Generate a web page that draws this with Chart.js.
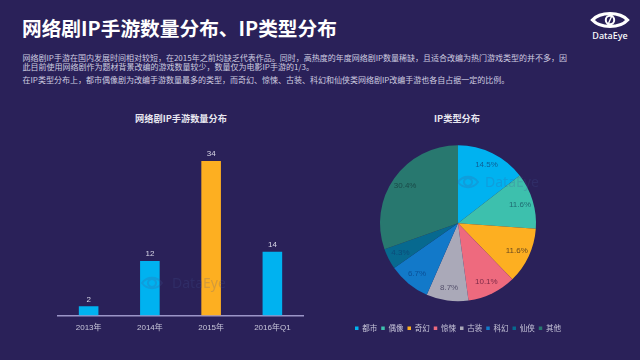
<!DOCTYPE html>
<html lang="zh"><head><meta charset="utf-8">
<script src="https://cdn.jsdelivr.net/npm/chart.js@4"></script>
<style>
html,body{margin:0;padding:0;background:#2a2159;width:640px;height:360px;overflow:hidden}
body{position:relative;font-family:"Noto Sans CJK SC",sans-serif}
.t{position:absolute;white-space:nowrap;margin:0}
#h{left:22px;top:14px;font-size:19.7px;line-height:28px;font-weight:700;color:#fff}
.b{left:22.5px;font-size:8px;line-height:10px;color:#cfcde0}
.ct{font-size:9.2px;font-weight:700;line-height:12px;color:#e8e7f0;transform:translateX(-50%)}
#logo{position:absolute;left:590px;top:10px}
#lt{left:610px;top:30px;font:500 9px/12px "Noto Sans",sans-serif;color:#fff;transform:translateX(-50%)}
canvas{position:absolute;left:0;top:0}
.wm{position:absolute;z-index:2}
.wmt{position:absolute;z-index:2;white-space:nowrap;font:14px/16px "Noto Sans",sans-serif;color:rgba(70,85,150,.22)}
</style></head><body>
<h1 class="t" id="h">网络剧IP手游数量分布、IP类型分布</h1>
<p class="t b" style="top:53px">网络剧IP手游在国内发展时间相对较短，在2015年之前均缺乏代表作品。同时，高热度的年度网络剧IP数量稀缺，且适合改编为热门游戏类型的并不多，因</p>
<p class="t b" style="top:62px">此目前使用网络剧作为题材背景改编的游戏数量较少，数量仅为电影IP手游的1/3。</p>
<p class="t b" style="top:75px">在IP类型分布上，都市偶像剧为改编手游数量最多的类型，而奇幻、惊悚、古装、科幻和仙侠类网络剧IP改编手游也各自占据一定的比例。</p>
<svg id="logo" width="40" height="20" viewBox="0 0 40 20"><path d="M2.5 10 C10 1.5 30 1.5 37.5 10 C30 18.5 10 18.5 2.5 10Z" fill="none" stroke="#fff" stroke-width="3.4"/><circle cx="20" cy="10" r="4.2" fill="none" stroke="#fff" stroke-width="2"/><path d="M23 3 L17 17" stroke="#fff" stroke-width="1.4"/></svg>
<div class="t" id="lt">DataEye</div>
<div class="t ct" style="left:181px;top:112px">网络剧IP手游数量分布</div>
<div class="t ct" style="left:457px;top:112px">IP类型分布</div>
<canvas id="bar" width="640" height="360"></canvas>
<canvas id="pie" width="640" height="360"></canvas>
<svg class="wm" style="left:141px;top:274px" width="22" height="18" viewBox="0 0 22 18"><path d="M1 9 C6 2 16 2 21 9 C16 16 6 16 1 9Z M11 5 a4 4 0 1 0 .01 0Z" fill="none" stroke="rgba(70,85,150,.22)" stroke-width="2"/></svg>
<div class="wmt" style="left:172px;top:275px">DataEye</div>
<svg class="wm" style="left:457px;top:173px" width="22" height="18" viewBox="0 0 22 18"><path d="M1 9 C6 2 16 2 21 9 C16 16 6 16 1 9Z M11 5 a4 4 0 1 0 .01 0Z" fill="none" stroke="rgba(70,85,150,.22)" stroke-width="2"/></svg>
<div class="wmt" style="left:485px;top:174px">DataEye</div>
<script>
const barCategories=["2013年","2014年","2015年","2016年Q1"];
const barValues=[2,12,34,14];
const barColors=["#00b2f0","#00b2f0","#fdaf21","#00b2f0"];
const pieCategories=["都市","偶像","奇幻","惊悚","古装","科幻","仙侠","其他"];
const pieValues=[14.5,11.6,11.6,10.1,8.7,8.7,4.3,30.4];
const pieTexts=["14.5%","11.6%","11.6%","10.1%","8.7%","6.7%","4.3%","30.4%"];
const pieColors=["#00b2f0","#3dc0ad","#fdaf21","#ee6a7e","#aaa9b8","#1279c9","#07698f","#28786f"];
const pieLabelColors=["#0d5f96","#1f6b72","#6a4a20","#7d2a48","#55516c","#0a4f96","#0b4c7a","#194948"];
Chart.defaults.font.family='"Liberation Sans","Noto Sans CJK SC",sans-serif';
const barLabels={id:"barLabels",afterDatasetsDraw(c){const x=c.ctx;x.save();x.font='8px "Liberation Sans"';x.fillStyle="#d8d6e6";x.textAlign="center";x.textBaseline="bottom";
 c.getDatasetMeta(0).data.forEach((e,i)=>x.fillText(barValues[i],e.x,e.y-3));x.restore();}};
new Chart(document.getElementById("bar"),{type:"bar",
 data:{labels:barCategories,datasets:[{data:barValues,backgroundColor:barColors,barPercentage:.8,categoryPercentage:.4}]},
 options:{responsive:false,animation:false,
  layout:{padding:{left:58,right:337,top:161,bottom:19}},
  plugins:{legend:{display:false},tooltip:{enabled:false}},
  scales:{y:{display:false,min:0,max:34},
   x:{border:{display:true,color:"#9b95c8",width:1.5},grid:{display:false,drawTicks:false},
    ticks:{color:"#c8c6da",font:{size:8},padding:8,maxRotation:0}}}},
 plugins:[barLabels]});
const pieLabels={id:"pieLabels",afterDatasetsDraw(c){const x=c.ctx;x.save();x.font='8px "Liberation Sans"';x.textAlign="center";x.textBaseline="middle";
 c.getDatasetMeta(0).data.forEach((e,i)=>{const a=(e.startAngle+e.endAngle)/2,r=e.outerRadius*.83;
  x.fillStyle=pieLabelColors[i];x.fillText(pieTexts[i],e.x+Math.cos(a)*r,e.y+Math.sin(a)*r);});x.restore();}};
new Chart(document.getElementById("pie"),{type:"pie",
 data:{labels:pieCategories,datasets:[{data:pieValues,backgroundColor:pieColors,borderWidth:0,radius:78}]},
 options:{responsive:false,animation:false,
  layout:{padding:{left:301,right:25,top:126,bottom:18}},
  plugins:{tooltip:{enabled:false},
   legend:{position:"bottom",labels:{color:"#c8c6da",font:{size:7.5,family:'"Noto Sans CJK SC"'},boxWidth:3.5,boxHeight:3.5,padding:4}}}},
 plugins:[pieLabels]});
</script>
</body></html>
